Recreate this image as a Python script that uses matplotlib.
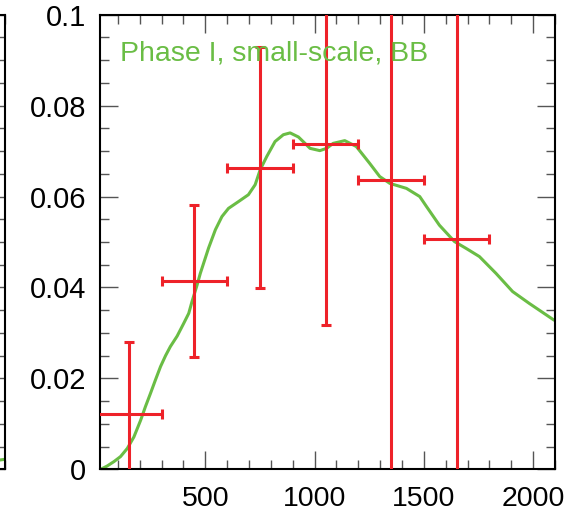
import matplotlib
matplotlib.use("Agg")
import matplotlib.pyplot as plt
import numpy as np
from matplotlib.ticker import MultipleLocator

plt.rcParams['font.family'] = ['Liberation Sans', 'DejaVu Sans']

# binned points with error bars
x_bin = [150, 450, 750, 1050, 1350, 1650]
x_half = [150, 150, 150, 150, 150, 150]
y_bin = [0.0122, 0.0414, 0.0663, 0.0716, 0.0637, 0.0507]
y_err = [0.0157, 0.0167, 0.0265, 0.0398, 0.075, 0.075]

# smooth green curve
x_curve = [21, 50, 82, 112, 143, 173, 204, 226, 249, 272, 295, 318, 340, 371,
           401, 424, 439, 462, 477, 515, 546, 576, 606, 652, 697, 728, 751,
           781, 819, 857, 888, 926, 956, 979, 1024, 1055, 1085, 1138, 1191,
           1252, 1298, 1344, 1420, 1481, 1512, 1571, 1640, 1693, 1754, 1830,
           1906, 1982, 2096]
y_curve = [0.0, 0.0007, 0.0017, 0.0028, 0.0046, 0.0071, 0.0108, 0.0138, 0.0167,
           0.0197, 0.0226, 0.0250, 0.0270, 0.0293, 0.0321, 0.0343, 0.0369,
           0.0405, 0.0431, 0.0487, 0.0527, 0.0556, 0.0574, 0.0589, 0.0604,
           0.0626, 0.0659, 0.0688, 0.0721, 0.0736, 0.0740, 0.0731, 0.0717,
           0.0706, 0.0701, 0.0706, 0.0717, 0.0723, 0.0710, 0.0673, 0.0644,
           0.0629, 0.0618, 0.0600, 0.0578, 0.0537, 0.0501, 0.0486, 0.0468,
           0.0431, 0.0391, 0.0365, 0.0328]

# tail of the neighbouring panel on the left
x_prev = [1900, 2100]
y_prev = [0.0012, 0.0022]

y_ticks = [0, 0.02, 0.04, 0.06, 0.08, 0.1]
y_labels = ['0', '0.02', '0.04', '0.06', '0.08', '0.1']
x_ticks = [500, 1000, 1500, 2000]

green = '#6abd45'
red = '#ee2229'

fig = plt.figure(figsize=(5.75, 5.19), dpi=100)
ax = fig.add_axes([100 / 575, 49.7 / 519, 455 / 575, 454.6 / 519])
ax0 = fig.add_axes([-0.6, 49.7 / 519, 0.6 + 5 / 575, 454.6 / 519])

for a in (ax, ax0):
    for s in a.spines.values():
        s.set_linewidth(1.5)
    a.tick_params(which='both', direction='in', top=True, right=True,
                  color='#555555', width=1.0)
    a.tick_params(which='major', length=13)
    a.tick_params(which='minor', length=6.5)
    a.set_ylim(0, 0.1)
    a.yaxis.set_minor_locator(MultipleLocator(0.005))
    a.xaxis.set_minor_locator(MultipleLocator(100))

ax0.set_xlim(18, 2100)
ax0.plot(x_prev, y_prev, color=green, lw=2.2)
ax0.set_yticks(y_ticks)
ax0.set_yticklabels([])
ax0.set_xticklabels([])

ax.plot(x_curve, y_curve, color=green, lw=2.2, solid_capstyle='round',
        solid_joinstyle='round', zorder=2)
ax.errorbar(x_bin, y_bin, xerr=x_half, yerr=y_err, fmt='none', ecolor=red,
            elinewidth=2.2, capsize=3.3, capthick=2.2, zorder=3)

ax.set_xlim(18, 2100)
ax.set_xticks(x_ticks)
ax.set_yticks(y_ticks)
ax.set_yticklabels(y_labels)
ax.tick_params(axis='x', which='major', pad=12, labelsize=20.5)
ax.tick_params(axis='y', which='major', pad=10, labelsize=21)

ax.text(0.044, 0.900, 'Phase I, small-scale, BB', transform=ax.transAxes,
        color=green, fontsize=20.5, va='baseline', ha='left')

fig.savefig('out.png', dpi=100)
